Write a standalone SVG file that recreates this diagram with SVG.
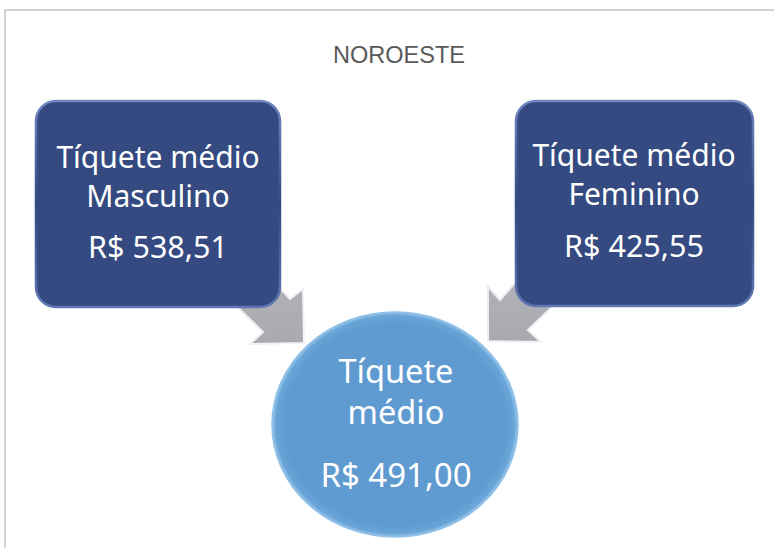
<svg xmlns="http://www.w3.org/2000/svg" width="774" height="548" viewBox="0 0 774 548">
<defs>
<style>
.frame{fill:none;stroke:#c4c4c4;stroke-width:1.5}
.title{font-family:"Liberation Sans",Arial,sans-serif;font-size:23px;fill:#595959;text-anchor:middle}
.lbl{font-family:"Noto Sans","Open Sans",sans-serif;fill:#ffffff;text-anchor:middle}
.box{fill:#344a80;stroke:url(#boxEdge);stroke-width:2.5}
.arrow{fill:url(#arrowFill);stroke:url(#arrowEdge);stroke-width:2;stroke-linejoin:miter}
</style>
<linearGradient id="boxEdge" x1="0" y1="0" x2="0" y2="1">
<stop offset="0" stop-color="#6f86c0"/>
<stop offset="0.5" stop-color="#344a80"/>
<stop offset="1" stop-color="#5f78b3"/>
</linearGradient>
<linearGradient id="arrowFill" x1="0" y1="0" x2="0" y2="1">
<stop offset="0" stop-color="#b4b4ba"/>
<stop offset="1" stop-color="#a9a9b0"/>
</linearGradient>
<linearGradient id="arrowEdge" x1="0" y1="0" x2="1" y2="1">
<stop offset="0" stop-color="#e8e8ee"/>
<stop offset="1" stop-color="#f4f4f8"/>
</linearGradient>
<radialGradient id="circFill" cx="0.5" cy="0.5" r="0.5">
<stop offset="0.9" stop-color="#5f9bd0"/>
<stop offset="0.97" stop-color="#6aa5d8"/>
<stop offset="1" stop-color="#9cc8ec"/>
</radialGradient>
</defs>
<rect class="frame" x="5" y="10" width="780" height="560"/>
<text class="title" x="399" y="63" textLength="132" lengthAdjust="spacingAndGlyphs">NOROESTE</text>
<g id="connectors">
<polygon class="arrow" points="255,262 290,299 303,289 304,343 250,344 263,332 215,285"/>
<polygon class="arrow" points="540,255 500,300 488,287 488,341 541,342 528,330 575,285"/>
</g>
<g id="node-masculino">
<rect class="box" x="36" y="101" width="244" height="206" rx="20" ry="20"/>
<text class="lbl" font-size="30" x="158" y="168">Tíquete médio</text>
<text class="lbl" font-size="30" x="158" y="207">Masculino</text>
<text class="lbl" font-size="30.5" x="158" y="258">R$ 538,51</text>
</g>
<g id="node-feminino">
<rect class="box" x="516" y="101" width="237" height="205" rx="20" ry="20"/>
<text class="lbl" font-size="30" x="634" y="166">Tíquete médio</text>
<text class="lbl" font-size="30" x="634" y="205">Feminino</text>
<text class="lbl" font-size="30.5" x="634" y="257">R$ 425,55</text>
</g>
<g id="node-total">
<ellipse cx="395" cy="424.5" rx="123" ry="112.5" fill="url(#circFill)" stroke="#8fc0e8" stroke-width="1.5"/>
<text class="lbl" font-size="32.5" x="396" y="383">Tíquete</text>
<text class="lbl" font-size="32.5" x="396" y="424">médio</text>
<text class="lbl" font-size="33" x="396" y="487">R$ 491,00</text>
</g>
</svg>
